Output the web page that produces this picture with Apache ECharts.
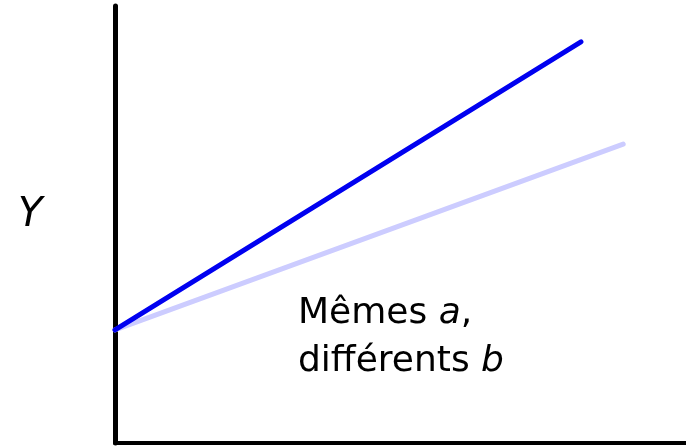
<!DOCTYPE html>
<html>
<head>
<meta charset="utf-8">
<script src="https://cdn.jsdelivr.net/npm/echarts@6/dist/echarts.min.js"></script>
<style>
  html, body { margin: 0; padding: 0; background: #fff; }
  #chart { width: 686px; height: 446px; }
</style>
</head>
<body>
<div id="chart"></div>
<script>
// deux droites, même ordonnée à l'origine (a), pentes différentes (b)
var lineNames = ["b fort", "b faible"]
var xStart = [0, 0]
var xEnd = [81.6, 89.0]
var yStart = [25.9, 25.9]
var yEnd = [91.8, 68.4]
var lineColors = ["#0000f0", "#ccccff"]

var series = lineNames.map(function (name, i) {
  return {
    name: name,
    type: "line",
    symbol: "none",
    z: i === 0 ? 3 : 2,
    lineStyle: { color: lineColors[i], width: 5, cap: "round" },
    data: [[xStart[i], yStart[i]], [xEnd[i], yEnd[i]]]
  }
})

var chart = echarts.init(document.getElementById("chart"))
chart.setOption({
  animation: false,
  grid: { left: 115, right: 0, top: 6, bottom: 3 },
  xAxis: {
    type: "value", min: 0, max: 100,
    axisLine: { show: true, lineStyle: { color: "#000", width: 4 } },
    axisTick: { show: false }, axisLabel: { show: false }, splitLine: { show: false }
  },
  yAxis: {
    type: "value", min: 0, max: 100,
    axisLine: { show: true, lineStyle: { color: "#000", width: 5 } },
    axisTick: { show: false }, axisLabel: { show: false }, splitLine: { show: false }
  },
  graphic: [
    {
      type: "text", left: 18, top: 196,
      style: { text: "Y", font: "italic 40px 'DejaVu Sans'", fill: "#000" }
    },
    {
      type: "text", left: 298, top: 290,
      style: {
        text: "Mêmes {i|a},\ndifférents {i|b}",
        fill: "#000",
        font: "36px 'DejaVu Sans'",
        lineHeight: 48,
        rich: {
          i: { fontStyle: "italic", fontSize: 36, fontFamily: "DejaVu Sans", lineHeight: 48 }
        }
      }
    }
  ],
  series: series
})
</script>
</body>
</html>
